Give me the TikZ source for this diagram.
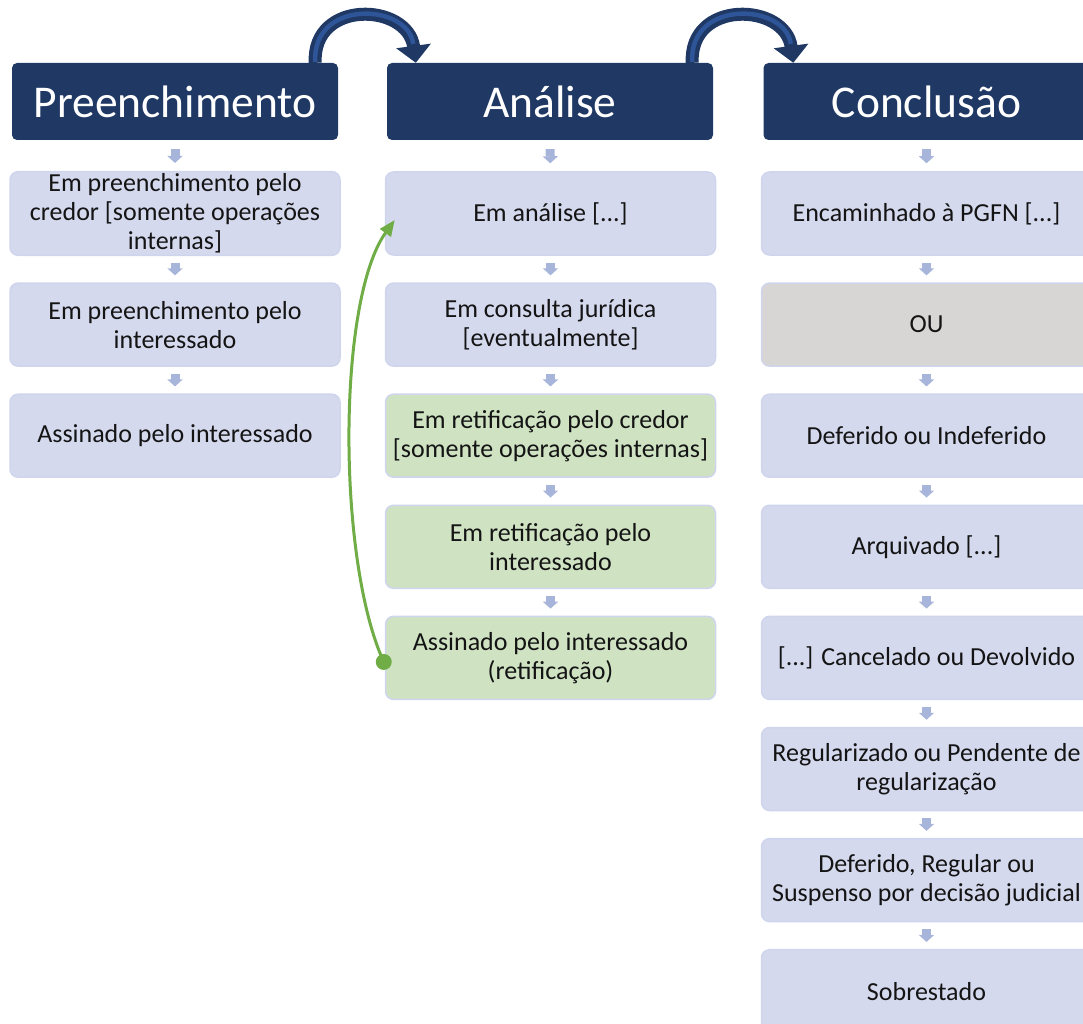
\documentclass[tikz,border=0pt]{standalone}
\usepackage{fontspec}
\setmainfont{Carlito}
\usetikzlibrary{arrows.meta,calc}
\definecolor{hdr}{HTML}{1F3864}
\definecolor{hdrhi}{HTML}{2E5597}
\definecolor{lav}{HTML}{D5D9EE}
\definecolor{lavline}{HTML}{CFD5EC}
\definecolor{grn}{HTML}{CFE3C3}
\definecolor{gry}{HTML}{D8D5D5}
\definecolor{smallarr}{HTML}{A8B5DB}
\definecolor{curve}{HTML}{70AD47}
\definecolor{txt}{HTML}{141414}
\begin{document}
\begin{tikzpicture}[x=1pt,y=-1pt,
  hdrbox/.style={fill=hdr, rounded corners=5pt, minimum width=326pt, minimum height=77pt,
    text=white, font=\fontsize{45.5}{54}\selectfont, inner sep=0pt},
  stepbox/.style={fill=lav, draw=lavline, line width=1.5pt, rounded corners=8pt,
    minimum width=330pt, minimum height=83pt, align=center, text=txt,
    font=\fontsize{26}{29}\selectfont, inner sep=2pt},
  greenbox/.style={stepbox, fill=grn},
  greybox/.style={stepbox, fill=gry},
  flow/.style={draw=smallarr, line width=9pt, -{Triangle[width=15pt,length=7pt]},
    shorten <=7pt, shorten >=7pt},
  hflow/.style={flow, shorten <=9pt, shorten >=8pt},
  bigarrow/.style={draw=hdr, line width=13pt, -{Triangle[width=34pt,length=17pt]}},
  bighi/.style={draw=hdrhi, line width=4.5pt, shorten >=19pt, shorten <=1pt},
  backarrow/.style={draw=curve, line width=3pt, -{Triangle[width=13pt,length=16pt]}}
]
\useasboundingbox (0,0) rectangle (1083,1024);

% headers
\node[hdrbox] (h1) at (175,101.5) {Preenchimento};
\node[hdrbox] (h2) at (550,101.5) {Análise};
\node[hdrbox] (h3) at (926.5,101.5) {Conclusão};

% column 1
\node[stepbox] (a1) at (175,213.5) {Em preenchimento pelo\\credor {[}somente operações\\internas{]}};
\node[stepbox] (a2) at (175,324.6) {Em preenchimento pelo\\interessado};
\node[stepbox] (a3) at (175,435.7) {Assinado pelo interessado};

% column 2
\node[stepbox] (b1) at (550.5,213.5) {Em análise {[}...{]}};
\node[stepbox] (b2) at (550.5,324.6) {Em consulta jurídica\\{[}eventualmente{]}};
\node[greenbox] (b3) at (550.5,435.7) {Em retificação pelo credor\\{[}somente operações internas{]}};
\node[greenbox] (b4) at (550.5,546.8) {Em retificação pelo\\interessado};
\node[greenbox] (b5) at (550.5,657.9) {Assinado pelo interessado\\(retificação)};

% column 3
\node[stepbox] (c1) at (926.5,213.5) {Encaminhado à PGFN {[}...{]}};
\node[greybox] (c2) at (926.5,324.6) {OU};
\node[stepbox] (c3) at (926.5,435.7) {Deferido ou Indeferido};
\node[stepbox] (c4) at (926.5,546.8) {Arquivado {[}...{]}};
\node[stepbox] (c5) at (926.5,657.9) {{[}...{]} Cancelado ou Devolvido};
\node[stepbox] (c6) at (926.5,769.0) {Regularizado ou Pendente de\\regularização};
\node[stepbox] (c7) at (926.5,880.1) {Deferido, Regular ou\\Suspenso por decisão judicial};
\node[stepbox] (c8) at (926.5,991.2) {Sobrestado};

% small down arrows
\draw[hflow] (h1) -- (a1);
\draw[flow] (a1) -- (a2);
\draw[flow] (a2) -- (a3);
\draw[hflow] (h2) -- (b1);
\draw[flow] (b1) -- (b2);
\draw[flow] (b2) -- (b3);
\draw[flow] (b3) -- (b4);
\draw[flow] (b4) -- (b5);
\draw[hflow] (h3) -- (c1);
\draw[flow] (c1) -- (c2);
\draw[flow] (c2) -- (c3);
\draw[flow] (c3) -- (c4);
\draw[flow] (c4) -- (c5);
\draw[flow] (c5) -- (c6);
\draw[flow] (c6) -- (c7);
\draw[flow] (c7) -- (c8);

% big curved arrows between headers
\draw[bigarrow] ($(h1.north east)+(-23,0)$) .. controls ($(h1.north east)+(-26,-64)$) and ($(h2.north west)+(21,-60)$) .. ($(h2.north west)+(29,0)$);
\draw[bighi] ($(h1.north east)+(-23,0)$) .. controls ($(h1.north east)+(-26,-64)$) and ($(h2.north west)+(21,-60)$) .. ($(h2.north west)+(29,0)$);
\draw[bigarrow] ($(h2.north east)+(-21,0)$) .. controls ($(h2.north east)+(-24,-64)$) and ($(h3.north west)+(22,-60)$) .. ($(h3.north west)+(30,0)$);
\draw[bighi] ($(h2.north east)+(-21,0)$) .. controls ($(h2.north east)+(-24,-64)$) and ($(h3.north west)+(22,-60)$) .. ($(h3.north west)+(30,0)$);

% green back arrow
\coordinate (gs) at ($(b5.west)+(-1,4)$);
\coordinate (ge) at ($(b1.west)+(10,6.5)$);
\draw[backarrow] (gs) .. controls (337,560) and (337,300) .. (ge);
\fill[curve] (gs) circle[radius=8pt];
\end{tikzpicture}
\end{document}
